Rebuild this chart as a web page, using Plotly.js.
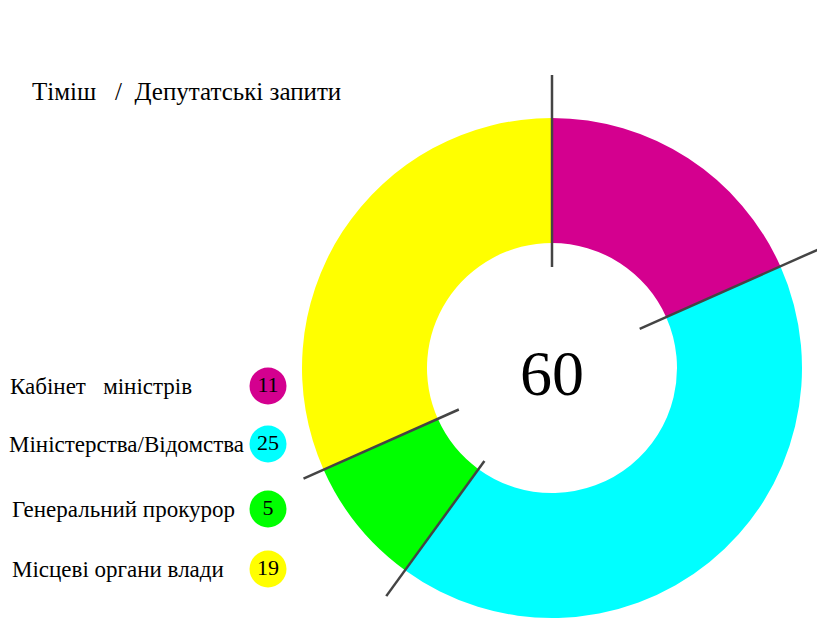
<!DOCTYPE html>
<html><head><meta charset="utf-8">
<script src="https://cdn.plot.ly/plotly-3.0.1.min.js"></script>
<style>html,body{margin:0;padding:0;background:#fff}#chart{width:817px;height:628px}</style>
</head><body><div id="chart"></div>
<script>
// ---- data ----
const titleText = 'Тіміш   /  Депутатські запити';
const categories = ['Кабінет   міністрів', 'Міністерства/Відомства', 'Генеральний прокурор', 'Місцеві органи влади'];
const values = [11, 25, 5, 19];
const colors = ['#d4008f', '#00ffff', '#00ff00', '#ffff00'];

// ---- layout constants (pixels) ----
const W = 817, H = 628;
const cx = 552, cy = 368, R = 250;
const sepInner = [101, 96, 115, 102];
const sepOuter = [293, 300, 282, 272];
const labelX = [8, 7, 10, 10];
const rowY = [386, 444, 509, 569];
const circleX = 268;
const FONT = 'Liberation Serif, DejaVu Serif, serif';

const total = values.reduce((a, b) => a + b, 0);

// separator lines at slice boundaries, computed from cumulative values
const shapes = [];
let cum = 0;
values.forEach((v, i) => {
  const ang = cum / total * 2 * Math.PI;
  const dx = Math.sin(ang), dy = -Math.cos(ang);
  shapes.push({
    type: 'line', xref: 'x', yref: 'y', layer: 'above',
    x0: cx + dx * sepInner[i], y0: cy + dy * sepInner[i],
    x1: cx + dx * sepOuter[i], y1: cy + dy * sepOuter[i],
    line: {color: '#444444', width: 2.5}
  });
  cum += v;
});

const pie = {
  type: 'pie', values: values, labels: categories, sort: false,
  direction: 'clockwise', rotation: 0, hole: 0.5,
  marker: {colors: colors, line: {width: 0}},
  textinfo: 'none', hoverinfo: 'label+value', showlegend: false,
  domain: {x: [(cx - R) / W, (cx + R) / W], y: [(H - cy - R) / H, (H - cy + R) / H]}
};

const circles = {
  type: 'scatter', mode: 'markers+text', xaxis: 'x', yaxis: 'y',
  x: categories.map(() => circleX), y: rowY,
  text: values.map(String), textposition: 'middle center',
  textfont: {family: FONT, size: 22, color: '#000'},
  marker: {size: 37, color: colors, line: {width: 0}},
  hoverinfo: 'skip', showlegend: false
};

const annotations = categories.map((c, i) => ({
  xref: 'x', yref: 'y', x: labelX[i], y: rowY[i], xanchor: 'left', yanchor: 'middle',
  text: c, showarrow: false, font: {family: FONT, size: 23, color: '#000'}
}));
annotations.push({
  xref: 'x', yref: 'y', x: cx, y: cy + 5, xanchor: 'center', yanchor: 'middle',
  text: String(total), showarrow: false, font: {family: FONT, size: 64, color: '#000'}
});

const layout = {
  width: W, height: H, margin: {l: 0, r: 0, t: 0, b: 0},
  paper_bgcolor: '#fff', plot_bgcolor: 'rgba(0,0,0,0)',
  title: {text: titleText, x: 32 / W, xanchor: 'left', xref: 'paper',
          y: 1 - 91 / H, yanchor: 'middle', yref: 'paper',
          font: {family: FONT, size: 25, color: '#000'}},
  xaxis: {range: [0, W], visible: false, fixedrange: true, domain: [0, 1]},
  yaxis: {range: [H, 0], visible: false, fixedrange: true, domain: [0, 1]},
  shapes: shapes, annotations: annotations, showlegend: false
};

Plotly.newPlot('chart', [circles, pie], layout, {displayModeBar: false, staticPlot: true});
</script></body></html>
